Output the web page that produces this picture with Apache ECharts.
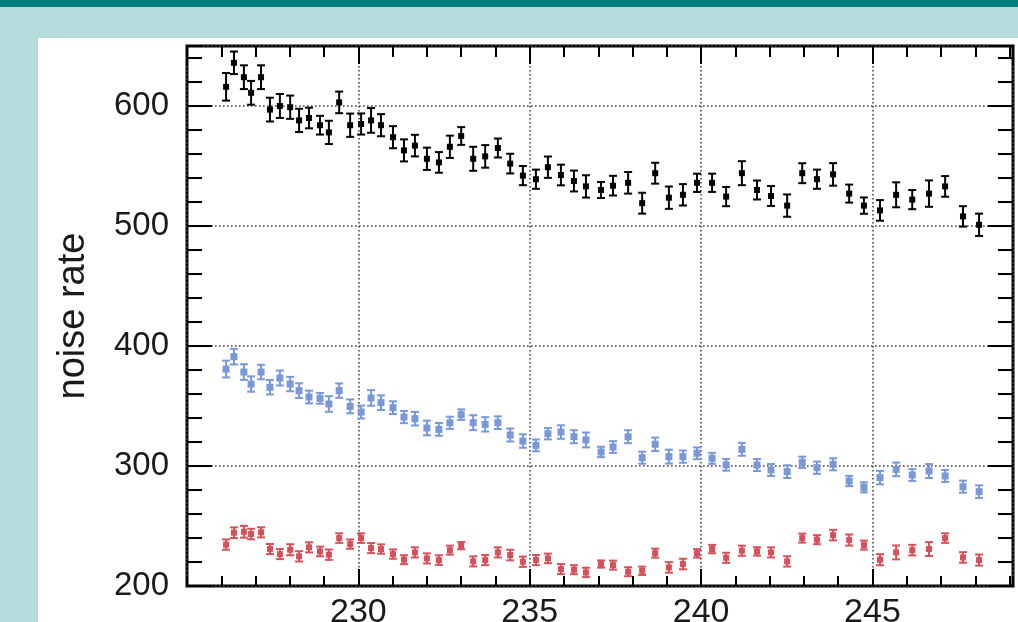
<!DOCTYPE html>
<html><head><meta charset="utf-8">
<script src="https://cdn.jsdelivr.net/npm/echarts@6/dist/echarts.min.js"></script>
<style>
html,body{margin:0;padding:0;width:1018px;height:622px;overflow:hidden;background:#b4dcdb;}
#band{position:absolute;left:0;top:0;width:1018px;height:7px;background:#007f7f;}
#panel{position:absolute;left:38px;top:38px;right:0;bottom:0;background:#fff;}
#chart{position:absolute;left:0;top:0;width:1018px;height:622px;}
</style></head><body>
<div id="band"></div><div id="panel"></div><div id="chart"></div>
<script>
const xValues = [226.14, 226.37, 226.66, 226.87, 227.16, 227.42, 227.71, 228.01, 228.27, 228.56,
  228.88, 229.14, 229.44, 229.76, 230.08, 230.37, 230.66, 231.01, 231.33, 231.65,
  232.00, 232.35, 232.67, 233.00, 233.35, 233.70, 234.07, 234.43, 234.80, 235.18,
  235.53, 235.91, 236.29, 236.64, 237.08, 237.43, 237.87, 238.28, 238.66, 239.06,
  239.47, 239.88, 240.32, 240.73, 241.19, 241.63, 242.04, 242.51, 242.95, 243.38,
  243.85, 244.32, 244.75, 245.22, 245.69, 246.16, 246.65, 247.12, 247.64, 248.11];

const blackValues = [616, 636, 624, 611, 624, 597, 600, 599, 588, 590,
  584, 578, 603, 584, 585, 588, 584, 574, 563, 567,
  556, 553, 566, 575, 556, 558, 565, 552, 542, 539,
  549, 542.5, 537.5, 533, 530, 533.6, 536, 519, 544, 523.6,
  526, 536, 536, 524.5, 544, 530, 525, 517, 544, 539,
  543, 527, 517, 513, 526, 522, 527, 533, 508, 501];
const blackErrors = [11.5, 9.4, 9.9, 9.9, 9.9, 9.9, 10, 9.7, 9.7, 8.6,
  7.8, 9.7, 9, 9.7, 8.8, 10.3, 9.2, 9.2, 9.2, 9,
  9.3, 8.6, 9.3, 7.4, 10, 9.4, 7.9, 8.2, 8, 8,
  8.9, 8.6, 8.7, 9.3, 6.7, 8.2, 9, 8.7, 8.7, 9.3,
  8.9, 7.6, 7.6, 8, 10, 7.9, 8.3, 9.3, 8.3, 8,
  9.4, 7.5, 6.8, 8.6, 10.4, 8, 11, 8.6, 8.5, 9.3];

const blueValues = [380.8, 391.1, 378.3, 368.3, 378.3, 365.6, 373.3, 368.3, 362.8, 357.5,
  356.4, 351.7, 362.8, 349.7, 345, 356.7, 352.8, 348.6, 340.8, 339.4,
  331.7, 330.5, 336, 342.8, 336.1, 334.7, 336.1, 325.8, 320.8, 317.2,
  326.9, 328.3, 324.4, 321.7, 311.7, 315.8, 324.4, 306.9, 318.1, 307.8,
  307.8, 310.6, 306.4, 301, 313.9, 300.8, 296.7, 295.3, 303.1, 298.6,
  301.4, 287.5, 282.2, 290.3, 297.2, 292.5, 295.8, 291.7, 282.8, 278.6];
const blueErrors = [7, 6.5, 6.5, 6.4, 6, 6, 6.2, 6, 6.1, 5.3,
  4.5, 6.5, 6, 5.8, 5.4, 6.5, 6.1, 5.3, 5.1, 5.6,
  6.1, 5.3, 5.1, 4.4, 6.2, 6, 5.3, 5.4, 5.6, 4.9,
  4.7, 5.6, 5.4, 6.2, 4.3, 4.9, 5.4, 5, 5.6, 5.8,
  5.1, 4.9, 4.6, 4.9, 5.4, 5, 5, 5.3, 4.7, 5.1,
  5, 4.3, 4.2, 5.6, 5.7, 4.9, 5.8, 5, 5, 5.3];

const redValues = [234.5, 244.4, 245.2, 243.3, 244.7, 230.8, 226.6, 230.2, 224.7, 232.2,
  228.8, 226.1, 239.9, 234.9, 239.9, 231.6, 230.8, 226.6, 221.9, 228,
  223, 221.6, 229.9, 233.6, 220.5, 221.6, 228, 225.8, 220.2, 221.6,
  223, 214.1, 213.6, 211.3, 218.3, 217.4, 211.9, 212.7, 227.4, 215.5,
  218.3, 227.2, 230.8, 223.5, 229.4, 228.8, 228, 220.5, 239.9, 238.6,
  242.4, 238.3, 234.1, 221.9, 228, 229.9, 230.8, 239.9, 223.8, 221.6];
const redErrors = [4.3, 4.4, 4.9, 4.4, 4.2, 4.2, 4.2, 4.6, 4.3, 4.2,
  4, 4.3, 4, 3.9, 4, 4.2, 3.9, 3.9, 3.75, 4.2,
  4.2, 4, 3.75, 3, 4.2, 4.2, 4.2, 4.4, 4.3, 4.2,
  4, 4.2, 3.75, 3.9, 3, 3.75, 3.75, 3.5, 3.75, 4.4,
  4.4, 3.5, 3.5, 4.2, 4.2, 3.5, 4.2, 4.3, 3.75, 3.75,
  4.4, 4.6, 3.75, 4.6, 5.8, 4.4, 5.8, 4, 4.4, 4.6];

const yAxisName = 'noise rate';
const xRange = [225, 249.1];
const yRange = [200, 650];

const FONT = '"Liberation Sans", Arial, Helvetica, sans-serif';
const TXT = '#1a1a1a';
const gridLine = {show: true, lineStyle: {color: '#444', width: 1.6, type: [1.6, 2.4]}};

function xAxisDef(pos, interval, tickLen, withLabels, split) {
  return {
    type: 'value', position: pos, min: xRange[0], max: xRange[1], interval: interval,
    axisLine: {show: false, onZero: false},
    axisTick: {show: true, inside: true, length: tickLen, lineStyle: {color: '#000', width: 2}},
    axisLabel: withLabels ? {show: true, fontSize: 34, fontFamily: FONT, color: TXT, margin: 10,
      showMinLabel: false, showMaxLabel: false} : {show: false},
    splitLine: split ? gridLine : {show: false},
    minorTick: {show: false}
  };
}
function yAxisDef(pos, interval, tickLen, withLabels, split) {
  const a = {
    type: 'value', position: pos, min: yRange[0], max: yRange[1], interval: interval,
    axisLine: {show: false, onZero: false},
    axisTick: {show: true, inside: true, length: tickLen, lineStyle: {color: '#000', width: 2}},
    axisLabel: withLabels ? {show: true, fontSize: 33, fontFamily: FONT, color: TXT, margin: 18,
      showMaxLabel: false} : {show: false},
    splitLine: split ? gridLine : {show: false}
  };
  if (withLabels) {
    a.name = yAxisName;
    a.nameLocation = 'middle';
    a.nameRotate = 90;
    a.nameGap = 94;
    a.nameTextStyle = {fontSize: 38, fontFamily: FONT, color: TXT};
  }
  return a;
}

function errorSeries(vals, errs, color) {
  return {
    type: 'custom', xAxisIndex: 0, yAxisIndex: 0, silent: true, z: 3,
    data: xValues.map((x, i) => [x, vals[i] - errs[i], vals[i] + errs[i]]),
    encode: {x: 0, y: [1, 2]},
    renderItem: function (params, api) {
      const x = api.value(0);
      const lo = api.coord([x, api.value(1)]);
      const hi = api.coord([x, api.value(2)]);
      const hw = 4;
      const st = {stroke: color, lineWidth: 2};
      return {type: 'group', children: [
        {type: 'line', shape: {x1: lo[0], y1: lo[1], x2: hi[0], y2: hi[1]}, style: st},
        {type: 'line', shape: {x1: lo[0] - hw, y1: lo[1], x2: lo[0] + hw, y2: lo[1]}, style: st},
        {type: 'line', shape: {x1: hi[0] - hw, y1: hi[1], x2: hi[0] + hw, y2: hi[1]}, style: st}
      ]};
    }
  };
}
function pointSeries(vals, color, size) {
  return {
    type: 'scatter', xAxisIndex: 0, yAxisIndex: 0, z: 4, silent: true,
    symbol: 'rect', symbolSize: size,
    itemStyle: {color: color, opacity: 1},
    data: xValues.map((x, i) => [x, vals[i]])
  };
}

const BLACK = '#000000', BLUE = '#7898d8', RED = '#d6505a';

const chart = echarts.init(document.getElementById('chart'), null, {renderer: 'canvas'});
chart.setOption({
  animation: false,
  backgroundColor: 'transparent',
  grid: {left: 187, top: 46, right: 5, bottom: 36, show: true, borderColor: '#000', borderWidth: 3,
    backgroundColor: 'transparent', containLabel: false, outerBoundsMode: 'none'},
  xAxis: [
    xAxisDef('bottom', 5, 17, true, true),
    xAxisDef('bottom', 1, 10, false, false),
    xAxisDef('top', 5, 18, false, false),
    xAxisDef('top', 1, 11, false, false)
  ],
  yAxis: [
    yAxisDef('left', 100, 25, true, true),
    yAxisDef('left', 20, 15, false, false),
    yAxisDef('right', 100, 25, false, false),
    yAxisDef('right', 20, 15, false, false)
  ],
  series: [
    errorSeries(redValues, redErrors, RED), pointSeries(redValues, RED, 6),
    errorSeries(blueValues, blueErrors, BLUE), pointSeries(blueValues, BLUE, 7),
    errorSeries(blackValues, blackErrors, BLACK), pointSeries(blackValues, BLACK, 6)
  ]
});
</script></body></html>
